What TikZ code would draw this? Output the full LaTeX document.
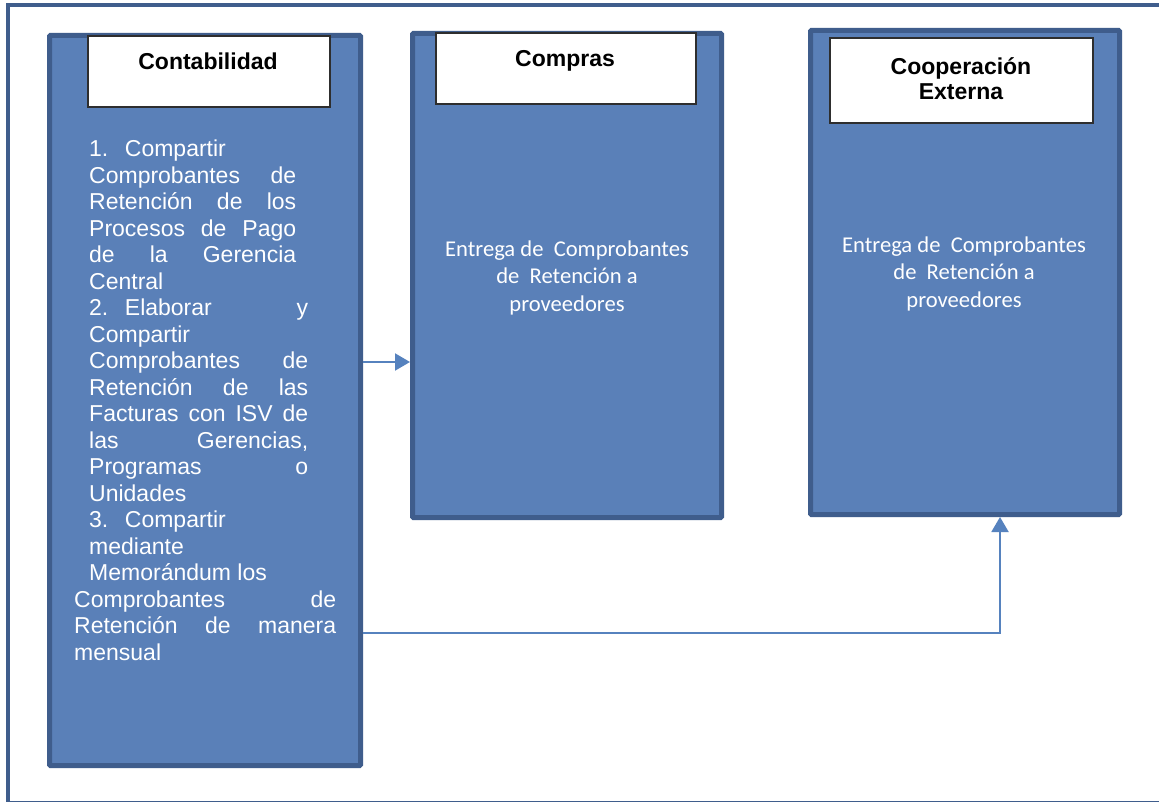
\documentclass[tikz,border=0pt]{standalone}
\usepackage{fontspec}
\setmainfont{Liberation Sans}
\newfontfamily\calib{Carlito}
\usetikzlibrary{arrows.meta}
\definecolor{boxfill}{HTML}{5A80B8}
\definecolor{boxline}{HTML}{3F5D8C}
\definecolor{arrowc}{HTML}{5682BE}
\definecolor{hdrline}{HTML}{2E2E2E}
\tikzset{
  frame/.style={draw=boxline, line width=4pt},
  bigbox/.style={draw=boxline, fill=boxfill, line width=5pt, inner sep=0pt, rounded corners=1pt},
  hdrbox/.style={draw=hdrline, fill=white, line width=1.2pt, inner sep=0pt},
  title/.style={font=\bfseries\fontsize{23}{24}\selectfont, inner sep=0pt, anchor=base},
  bodytext/.style={text=white, inner sep=0pt},
  arr/.style={draw=arrowc, line width=2pt, -{Triangle[length=15pt,width=17pt]}},
}
\begin{document}
\begin{tikzpicture}[x=1pt,y=-1pt]
\clip (0,0) rectangle (1159,802);
\fill[white] (0,0) rectangle (1159,802);
\draw[frame] (7.5,5.5) rectangle (1175,803);

% big boxes
\node[bigbox, minimum width=311pt, minimum height=730pt] (cont) at (205,400.5) {};
\node[bigbox, minimum width=309pt, minimum height=484pt] (comp) at (567,275.5) {};
\node[bigbox, minimum width=309pt, minimum height=484pt] (coop) at (965,272.5) {};

% header boxes
\node[hdrbox, minimum width=242pt, minimum height=71pt] (conth) at (209,71.5) {};
\node[hdrbox, minimum width=260pt, minimum height=71pt] (comph) at (566,68.5) {};
\node[hdrbox, minimum width=263pt, minimum height=85pt] (cooph) at (961.5,80.5) {};

% titles
\node[title] (contt) at (208,69.5) {Contabilidad};
\node[title] (compt) at (565,67) {Compras};
\node[title] (coopt1) at (961,75) {Cooperación};
\node[title] (coopt2) at (961,100) {Externa};

% contabilidad body
\node[bodytext, anchor=base west, font=\fontsize{23}{26.5}\selectfont] (ctext) at (74,157) {\vtop{\baselineskip=26.5pt \lineskiplimit=-50pt
\hbox{\hskip15pt 1.\hspace{0.72em}Compartir}
\hbox{\hskip15pt\makebox[207pt][s]{Comprobantes de}}
\hbox{\hskip15pt\makebox[207pt][s]{Retención de los}}
\hbox{\hskip15pt\makebox[207pt][s]{Procesos de Pago}}
\hbox{\hskip15pt\makebox[207pt][s]{de la Gerencia}}
\hbox{\hskip15pt Central}
\hbox{\hskip15pt\makebox[219pt][s]{2.\hspace{0.72em}Elaborar y}}
\hbox{\hskip15pt Compartir}
\hbox{\hskip15pt\makebox[219pt][s]{Comprobantes de}}
\hbox{\hskip15pt\makebox[219pt][s]{Retención de las}}
\hbox{\hskip15pt\makebox[219pt][s]{Facturas con ISV de}}
\hbox{\hskip15pt\makebox[219pt][s]{las Gerencias,}}
\hbox{\hskip15pt\makebox[219pt][s]{Programas o}}
\hbox{\hskip15pt Unidades}
\hbox{\hskip15pt 3.\hspace{0.72em}Compartir}
\hbox{\hskip15pt mediante}
\hbox{\hskip15pt Memorándum los}
\hbox{\makebox[262pt][s]{Comprobantes de}}
\hbox{\makebox[262pt][s]{Retención de manera}}
\hbox{mensual}}};

% compras / coop body
\node[bodytext, anchor=base, font=\calib\fontsize{22.6}{27}\selectfont] (comptext) at (567,256.5) {\vtop{\baselineskip=27.5pt \lineskiplimit=-50pt \halign{\hfil#\hfil\cr Entrega de\ \ Comprobantes\cr de\ \ Retención a\cr proveedores\cr}}};
\node[bodytext, anchor=base, font=\calib\fontsize{22.6}{27}\selectfont] (cooptext) at (964,252.5) {\vtop{\baselineskip=27.5pt \lineskiplimit=-50pt \halign{\hfil#\hfil\cr Entrega de\ \ Comprobantes\cr de\ \ Retención a\cr proveedores\cr}}};

% connectors
\coordinate (a1) at (0,362);
\coordinate (a2) at (1000,633);
\draw[arr] (cont.east |- a1) -- (comp.west |- a1);
\draw[arr] (cont.east |- a2) -- (a2) -- (coop.south -| a2);
\end{tikzpicture}
\end{document}
